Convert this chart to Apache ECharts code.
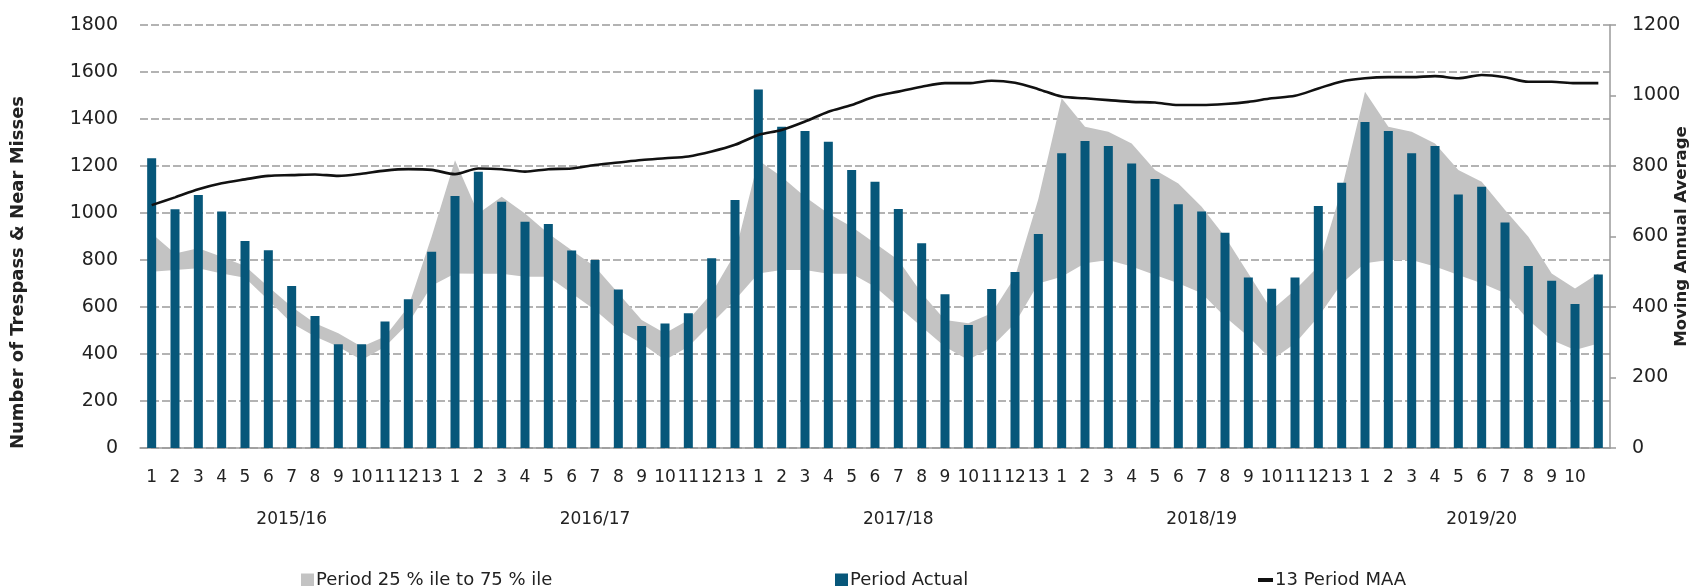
<!DOCTYPE html>
<html>
<head>
<meta charset="utf-8">
<script src="https://cdn.jsdelivr.net/npm/echarts@6/dist/echarts.min.js"></script>
<style>
html,body{margin:0;padding:0;background:#fff;}
#chart{width:1691px;height:586px;}
</style>
</head>
<body>
<div id="chart"></div>
<script>
// ---- Data ----
const years = ['2015/16','2016/17','2017/18','2018/19','2019/20'];
const periodsPerYear = [13,13,13,13,11];
const periodLabels = ['1','2','3','4','5','6','7','8','9','10','11','12','13'];
// last period of 2019/20 has no label in the source
const lastPeriodLabel = '';

const periodActual = [
  1233,1016,1077,1006,881,842,689,562,441,441,538,633,835,
  1072,1176,1048,963,953,840,800,675,519,530,573,807,1055,
  1526,1367,1349,1303,1183,1133,1017,871,654,523,677,749,911,
  1254,1306,1285,1211,1145,1037,1006,916,726,678,726,1030,1129,
  1387,1349,1254,1285,1079,1112,960,774,712,613,738
];
const maa13 = [
  689,711,734,751,762,772,774,776,772,778,787,791,789,
  777,793,791,784,791,793,803,810,817,822,827,841,860,
  888,902,926,954,973,997,1011,1025,1035,1035,1042,1036,1018,
  997,992,987,982,980,973,973,976,982,992,999,1020,1040,
  1049,1052,1052,1055,1049,1058,1052,1039,1039,1035,1035
];
const pct25 = [
  750,757,765,743,725,630,531,474,431,374,431,531,690,
  743,742,742,729,729,658,587,502,445,374,431,531,630,
  743,757,757,742,742,686,601,516,431,374,431,531,700,
  729,786,800,772,736,701,658,559,474,374,445,559,700,
  786,800,800,772,736,701,658,545,460,417,445
];
const pct75 = [
  913,828,850,814,775,686,601,531,488,431,474,601,900,
  1225,998,1069,998,913,842,771,658,545,488,545,658,828,
  1225,1154,1069,998,942,871,800,658,545,531,573,729,1060,
  1488,1367,1346,1296,1183,1126,1027,899,743,587,672,772,1100,
  1516,1367,1346,1296,1183,1133,1013,899,743,679,743
];
const leftTicks = {min:0, max:1800, interval:200};
const rightTicks = {min:0, max:1200, interval:200};
const seriesNames = {band: 'Period 25 % ile to 75 % ile', actual: 'Period Actual', maa: '13 Period MAA'};

// ---- Build categories ----
const categories = [];
const yearRow = [];
years.forEach((y, yi) => {
  const n = periodsPerYear[yi];
  const mid = Math.floor((n - 1) / 2);
  for (let p = 0; p < n; p++) {
    let lab = periodLabels[p];
    if (yi === years.length - 1 && p === n - 1) lab = lastPeriodLabel;
    categories.push(lab + '|' + yi + '|' + p);
    yearRow.push(p === mid ? y : '');
  }
});
const bandDiff = pct75.map((v, i) => v - pct25[i]);

const FONT = 'DejaVu Sans';
const TXT = '#222';
const LEG = {fontSize: 18, color: TXT, fontFamily: FONT, padding: [0, 0, 0, -3]};
const chart = echarts.init(document.getElementById('chart'));
chart.setOption({
  animation: false,
  backgroundColor: '#fff',
  textStyle: {fontFamily: FONT},
  grid: {left: 140, right: 81, top: 25, bottom: 138, containLabel: false, outerBoundsMode: 'none'},
  legend: [
    {data: [{name: seriesNames.band, icon: 'rect'}], left: 296, top: 566, itemWidth: 13, itemHeight: 13, textStyle: LEG},
    {data: [{name: seriesNames.actual, icon: 'rect'}], left: 830, top: 566, itemWidth: 13, itemHeight: 13, textStyle: LEG},
    {data: [{name: seriesNames.maa, icon: 'rect'}], left: 1253, top: 566, itemWidth: 15, itemHeight: 4, textStyle: LEG}
  ],
  xAxis: [
    {
      type: 'category', data: categories, boundaryGap: true,
      axisLine: {show: true, lineStyle: {color: '#9a9a9a', width: 1.5}},
      axisTick: {show: false},
      axisLabel: {interval: 0, margin: 21, fontSize: 17, color: TXT, fontFamily: FONT,
        formatter: v => v.split('|')[0]}
    },
    {
      type: 'category', data: yearRow.map((y, i) => y + '#' + i), position: 'bottom', boundaryGap: true,
      axisLine: {show: false}, axisTick: {show: false},
      axisLabel: {interval: 0, margin: 63, fontSize: 17, color: TXT, fontFamily: FONT,
        formatter: v => v.split('#')[0]}
    }
  ],
  yAxis: [
    {
      type: 'value', min: leftTicks.min, max: leftTicks.max, interval: leftTicks.interval,
      name: 'Number of Trespass & Near Misses', nameLocation: 'middle', nameGap: 113, nameRotate: 90,
      nameMoveOverlap: false,
      nameTextStyle: {fontSize: 18, fontWeight: 'bold', color: TXT, padding: [0, 72, 0, 0], fontFamily: FONT},
      axisLine: {show: false}, axisTick: {show: false},
      axisLabel: {margin: 22, fontSize: 19, color: TXT, fontFamily: FONT, formatter: v => String(v)},
      splitLine: {show: true, lineStyle: {color: '#9a9a9a', width: 1.5, type: [8, 3]}}
    },
    {
      type: 'value', min: rightTicks.min, max: rightTicks.max, interval: rightTicks.interval, position: 'right',
      name: 'Moving Annual Average', nameLocation: 'middle', nameGap: 63, nameRotate: 90,
      nameMoveOverlap: false,
      nameTextStyle: {fontSize: 16.5, fontWeight: 'bold', color: TXT, fontFamily: FONT},
      axisLine: {show: true, lineStyle: {color: '#9a9a9a', width: 1.5}},
      axisTick: {show: true, length: 6, lineStyle: {color: '#9a9a9a', width: 1.5}},
      axisLabel: {margin: 22, fontSize: 19, color: TXT, fontFamily: FONT, formatter: v => String(v)},
      splitLine: {show: false}
    }
  ],
  series: [
    {
      name: 'p25base', type: 'line', stack: 'band', data: pct25, symbol: 'none',
      lineStyle: {width: 0, opacity: 0}, silent: true, z: 1
    },
    {
      name: seriesNames.band, type: 'line', stack: 'band', data: bandDiff, symbol: 'none',
      lineStyle: {width: 0, opacity: 0}, itemStyle: {color: '#c3c3c3'},
      areaStyle: {color: '#c3c3c3', opacity: 1}, z: 1
    },
    {
      name: seriesNames.actual, type: 'bar', data: periodActual, barWidth: 9,
      itemStyle: {color: '#07577a'}, z: 2
    },
    {
      name: seriesNames.maa, type: 'line', yAxisIndex: 1, data: maa13, symbol: 'none', smooth: 0.3,
      lineStyle: {color: '#111', width: 2.6}, itemStyle: {color: '#111'}, z: 3
    }
  ]
});
</script>
</body>
</html>
